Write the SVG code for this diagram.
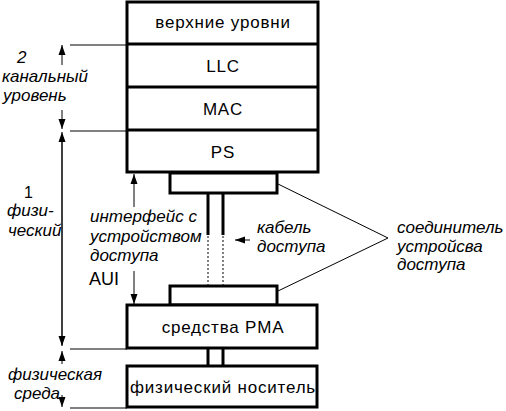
<svg xmlns="http://www.w3.org/2000/svg" width="506" height="411" viewBox="0 0 506 411">
<style>
.box{fill:#fff;stroke:#000;stroke-width:3}
.t{font-family:"Liberation Sans",Arial,sans-serif;font-size:17px;letter-spacing:0.8px;fill:#000;text-anchor:middle}
.i{font-family:"Liberation Sans",Arial,sans-serif;font-size:17px;font-style:italic;fill:#000}
.n{font-family:"Liberation Sans",Arial,sans-serif;font-size:18px;fill:#000}
.ln{stroke:#000;stroke-width:1;fill:none}
.thick{stroke:#000;stroke-width:3;fill:none}
.dot{stroke:#000;stroke-width:1;stroke-dasharray:2,2;fill:none}
</style>
<defs>
<marker id="ah" viewBox="0 0 10 10" refX="10" refY="5" markerWidth="10" markerHeight="10" markerUnits="userSpaceOnUse" orient="auto">
<path d="M0,1.5 L10,5 L0,8.5 Z" fill="#000"/>
</marker>
</defs>
<g id="stack">
<rect class="box" x="127" y="2" width="191" height="170"/>
<line class="thick" x1="127" y1="44" x2="318" y2="44"/>
<line class="thick" x1="127" y1="87" x2="318" y2="87"/>
<line class="thick" x1="127" y1="130" x2="318" y2="130"/>
</g>
<g id="upper"><text class="t" x="223" y="28">верхние уровни</text></g>
<g id="llc"><text class="t" x="223" y="72">LLC</text></g>
<g id="mac"><text class="t" x="223" y="115">MAC</text></g>
<g id="ps"><text class="t" x="223" y="158">PS</text></g>
<g id="conn-top"><rect class="box" x="170" y="173" width="107" height="20"/></g>
<g id="conn-bottom"><rect class="box" x="170" y="286" width="107" height="19"/></g>
<g id="pma">
<rect class="box" x="127" y="305" width="190" height="43"/>
<text class="t" x="223" y="333">средства PMA</text>
</g>
<g id="medium">
<rect class="box" x="127" y="366" width="190" height="41"/>
<text class="t" x="223" y="393">физический носитель</text>
</g>
<g id="connectors">
<line class="thick" x1="208" y1="193" x2="208" y2="235"/>
<line class="thick" x1="223" y1="193" x2="223" y2="235"/>
<line class="dot" x1="208" y1="236" x2="208" y2="285"/>
<line class="dot" x1="223" y1="236" x2="223" y2="285"/>
<line class="thick" x1="208" y1="348" x2="208" y2="366"/>
<line class="thick" x1="223" y1="348" x2="223" y2="366"/>
<line class="ln" x1="70" y1="45" x2="127" y2="45"/>
<line class="ln" x1="70" y1="131" x2="127" y2="131"/>
<line class="ln" x1="70" y1="349" x2="127" y2="349"/>
<line class="ln" x1="70" y1="408" x2="127" y2="408"/>
<line class="ln" x1="62" y1="65" x2="62" y2="45" marker-end="url(#ah)"/>
<line class="ln" x1="62" y1="110" x2="62" y2="129" marker-end="url(#ah)"/>
<line class="ln" x1="62" y1="345" x2="62" y2="132" marker-end="url(#ah)"/>
<line class="ln" x1="62" y1="138" x2="62" y2="346" marker-end="url(#ah)"/>
<line class="ln" x1="62" y1="364" x2="62" y2="351" marker-end="url(#ah)"/>
<line class="ln" x1="62" y1="395" x2="62" y2="407" marker-end="url(#ah)"/>
<line class="ln" x1="134" y1="207" x2="134" y2="174" marker-end="url(#ah)"/>
<line class="ln" x1="134" y1="271" x2="134" y2="304" marker-end="url(#ah)"/>
<line class="ln" x1="250" y1="240" x2="235" y2="240" marker-end="url(#ah)"/>
<line class="ln" x1="278" y1="184" x2="388" y2="238"/>
<line class="ln" x1="278" y1="291" x2="388" y2="238"/>
</g>
<g id="labels">
<text class="i" x="17" y="63">2</text>
<text class="i" x="2" y="82">канальный</text>
<text class="i" x="3" y="101">уровень</text>
<text class="n" x="24" y="198" style="font-size:16px">1</text>
<text class="i" x="7" y="216">физи-</text>
<text class="i" x="8" y="236">ческий</text>
<text class="i" x="8" y="380">физическая</text>
<text class="i" x="14" y="399">среда</text>
<text class="i" x="90" y="222">интерфейс с</text>
<text class="i" x="90" y="242">устройством</text>
<text class="i" x="90" y="261">доступа</text>
<text class="n" x="89" y="285">AUI</text>
<text class="i" x="257" y="233">кабель</text>
<text class="i" x="257" y="252">доступа</text>
<text class="i" x="397" y="233">соединитель</text>
<text class="i" x="397" y="252">устройсва</text>
<text class="i" x="397" y="270">доступа</text>
</g>
</svg>
